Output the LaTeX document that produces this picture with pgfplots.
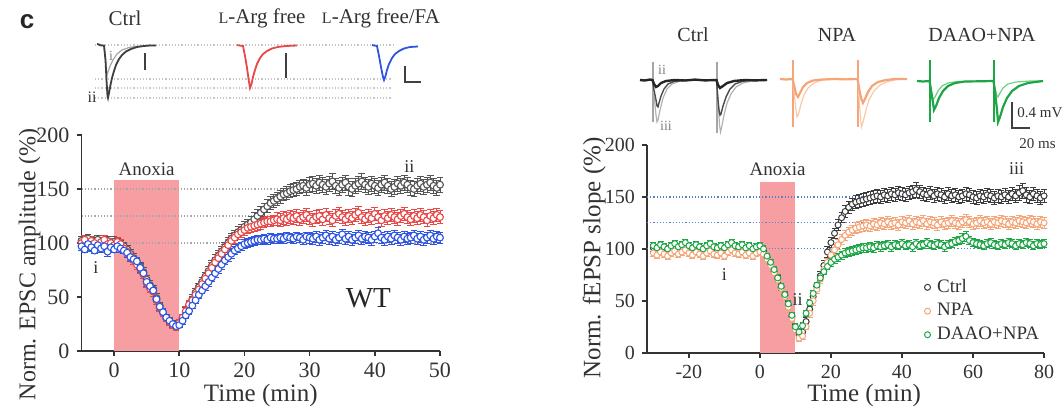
\documentclass[border=0pt]{standalone}
\usepackage{fontspec}
\setmainfont{Liberation Serif}
\newfontfamily\panelfont{Liberation Sans}
\usepackage{pgfplots}
\usepackage{pgfplotstable}
\pgfplotsset{compat=1.18}

\definecolor{cblk}{RGB}{85,85,85}
\definecolor{cred}{RGB}{232,72,72}
\definecolor{cblu}{RGB}{45,85,225}
\definecolor{anox}{RGB}{247,158,162}
\definecolor{rgrid}{RGB}{90,130,200}
\definecolor{rblk}{RGB}{60,60,60}
\definecolor{rorg}{RGB}{245,165,120}
\definecolor{rorgl}{RGB}{250,200,170}
\definecolor{rgrn}{RGB}{30,165,70}
\definecolor{rgrnl}{RGB}{110,210,130}
\definecolor{txt}{RGB}{50,50,50}

% EPSC amplitude, WT (t in min): Ctrl, L-Arg free, L-Arg free/FA
\pgfplotstableread{
t c ce r re b be
-5 102 4 100 4 97 4
-4.5 99 5 103 4 94 3
-4 104 4 98 5 99 4
-3.5 101 4 102 4 96 4
-3 97 5 100 4 93 3
-2.5 103 4 96 5 98 4
-2 100 4 101 4 95 4
-1.5 98 5 103 4 97 3
-1 102 4 99 5 92 4
-0.5 99 4 100 4 96 4
0 101 5 98 4 94 3
0.5 100 4 101 4 97 4
1 98 4 99 4 95 4
1.5 97 4 95 4 93 3
2 94 4 92 4 91 4
2.5 90 4 88 4 87 4
3 86 4 84 4 85 3
3.5 82 4 80 4 83 4
4 78 4 76 4 77 4
4.5 73 4 71 4 72 3
5 66 4 63 4 64 4
5.5 61 4 58 4 60 3
6 57 4 55 4 56 3
6.5 49 4 47 4 48 3
7 42 3 40 3 41 3
7.5 36 3 35 3 36 3
8 31 3 30 3 31 3
8.5 28 3 27 3 28 2
9 25 3 24 3 25 2
9.5 23 3 22 3 23 2
10 25 3 26 3 24 2
10.5 30 3 31 3 28 3
11 36 4 37 4 33 3
11.5 42 4 43 4 37 3
12 48 4 47 4 42 3
12.5 54 4 52 4 47 3
13 59 4 57 4 52 3
13.5 64 4 62 4 56 3
14 69 4 67 4 60 4
14.5 74 4 72 4 64 4
15 79 5 77 5 68 4
15.5 84 5 82 5 72 4
16 88 5 86 5 76 4
16.5 92 5 90 5 80 4
17 96 5 94 5 84 4
17.5 100 5 98 5 87 4
18 104 5 102 5 90 4
18.5 107 5 105 5 93 4
19 110 5 108 5 95 4
19.5 112 5 110 5 97 4
20 115 5 112 5 99 4
20.5 117 5 114 5 100 4
21 119 6 115 5 101 4
21.5 122 6 116 5 102 4
22 125 6 117 5 103 4
22.5 128 6 118 5 103 4
23 131 6 119 5 104 4
23.5 134 6 120 5 103 4
24 137 6 120 5 105 4
24.5 139 6 121 5 104 4
25 141 6 122 6 104 4
25.5 143 6 121 6 105 4
26 145 6 123 6 104 4
26.5 146 6 122 6 106 4
27 148 6 124 6 105 4
27.5 149 6 123 6 104 4
28 150 6 125 6 106 4
28.5 152 6 122 6 105 4
29 153 6 124 6 103 4
29.5 151 7 126 6 106 4
30 154 7 123 6 105 5
30.5 155 7 121 6 104 5
31 153 7 124 6 106 5
31.5 156 7 125 6 103 5
32 154 7 122 6 105 5
32.5 152 7 126 6 107 5
33 155 7 123 6 104 5
33.5 157 7 121 6 106 5
34 153 7 125 6 103 5
34.5 151 7 127 6 105 5
35 154 7 124 6 108 5
35.5 156 7 122 6 104 5
36 152 8 125 6 106 5
36.5 150 7 123 6 103 5
37 153 7 126 6 105 5
37.5 155 7 128 6 107 5
38 157 7 124 6 104 5
38.5 154 7 122 6 106 5
39 152 7 125 6 105 5
39.5 155 7 123 6 103 5
40 153 7 127 6 106 5
40.5 151 7 124 6 109 5
41 154 7 121 6 105 5
41.5 156 7 125 6 103 5
42 153 7 123 6 106 5
42.5 150 7 126 6 104 5
43 152 7 124 6 107 5
43.5 155 7 122 6 105 5
44 153 7 125 6 103 5
44.5 156 7 127 6 106 5
45 154 7 124 6 104 5
45.5 151 7 122 6 105 5
46 150 7 125 6 107 5
46.5 153 7 123 6 104 5
47 155 7 126 6 106 5
47.5 152 7 124 6 103 5
48 154 7 121 6 105 5
48.5 156 7 125 6 107 5
49 153 7 123 6 104 5
49.5 151 7 126 6 106 5
50 154 7 124 6 105 5
}\leftdata

% fEPSP slope (t in min): Ctrl, NPA, DAAO+NPA
\pgfplotstableread{
t c ce n ne d de
-30 101 3 96 3 103 3
-29 99 3 94 3 101 3
-28 102 3 97 3 104 3
-27 100 3 95 3 102 3
-26 98 3 93 3 100 3
-25 101 3 96 3 103 3
-24 103 3 98 3 105 3
-23 100 3 95 3 102 3
-22 102 3 97 3 104 3
-21 104 3 99 3 106 3
-20 101 3 96 3 103 3
-19 99 3 94 3 101 3
-18 102 3 97 3 104 3
-17 100 3 95 3 102 3
-16 98 3 93 3 100 3
-15 101 3 96 3 103 3
-14 103 3 98 3 105 3
-13 100 3 95 3 102 3
-12 98 3 94 3 101 3
-11 101 3 96 3 103 3
-10 99 3 93 3 101 3
-9 102 3 97 3 104 3
-8 104 3 99 3 106 3
-7 101 3 96 3 103 3
-6 100 3 95 3 102 3
-5 102 3 97 3 104 3
-4 99 3 94 3 101 3
-3 101 3 96 3 103 3
-2 98 3 93 3 100 3
-1 100 3 96 3 102 3
0 101 3 97 3 103 3
1 98 3 95 3 100 3
2 92 3 90 3 93 3
3 85 3 84 3 87 3
4 78 3 77 3 80 3
5 71 3 70 3 72 3
6 63 3 62 3 64 3
7 55 3 54 3 56 3
8 46 3 44 3 47 3
9 35 3 33 3 36 3
10 24 3 22 3 25 3
11 17 3 14 3 20 3
12 20 3 16 3 26 3
13 30 4 25 3 38 3
14 42 4 38 4 48 3
15 54 4 50 4 57 3
16 64 4 61 4 65 3
17 74 4 71 4 72 3
18 84 5 80 4 78 3
19 97 5 87 4 83 3
20 106 5 94 5 87 4
21 115 5 99 5 90 4
22 123 5 104 5 92 4
23 130 5 109 5 94 4
24 136 6 113 5 96 4
25 140 6 116 5 97 4
26 143 6 118 5 98 4
27 145 6 120 5 99 4
28 146 6 121 5 100 4
29 147 6 122 5 101 4
30 148 6 123 5 101 4
31 149 6 122 5 102 4
32 150 6 124 5 101 4
33 151 6 123 5 103 4
34 150 6 125 5 102 4
35 152 6 124 5 103 4
36 151 6 126 5 104 4
37 153 6 124 5 102 4
38 152 6 125 5 104 4
39 154 6 123 5 103 4
40 153 6 126 5 105 4
41 152 6 125 5 103 4
42 154 6 127 5 104 4
43 155 6 124 5 102 4
44 157 7 126 5 105 4
45 155 6 125 5 103 4
46 153 6 127 5 104 4
47 152 6 124 5 106 4
48 154 6 126 5 104 4
49 151 6 125 5 103 4
50 153 6 123 5 105 4
51 152 6 126 5 104 4
52 150 6 124 5 102 4
53 153 6 125 5 104 4
54 151 6 127 5 105 4
55 152 6 125 5 107 4
56 150 6 124 5 108 4
57 151 6 126 5 110 5
58 153 6 128 5 112 5
59 152 6 126 5 108 4
60 150 6 124 5 106 4
61 149 6 125 5 105 4
62 151 6 127 5 104 4
63 150 6 125 5 103 4
64 152 6 126 5 105 4
65 151 6 124 5 106 4
66 149 6 126 5 104 4
67 151 6 125 5 103 4
68 150 6 127 5 105 4
69 152 6 126 5 104 4
70 150 6 124 5 106 4
71 153 6 126 5 105 4
72 151 6 125 5 103 4
73 154 7 127 5 105 4
74 156 7 126 5 104 4
75 152 7 125 5 106 4
76 150 6 127 5 105 4
77 153 6 126 5 103 4
78 151 6 124 5 105 4
79 149 6 126 5 104 4
80 151 6 125 5 105 4
}\rightdata

\pgfplotsset{
  mainax/.style={
    anchor=south west, scale only axis, clip=false,
    axis lines*=left,
    axis line style={line width=0.8pt, black!80},
    tick align=outside, major tick length=2.5pt,
    tick style={line width=0.8pt, black!80},
    /pgf/number format/assume math mode=true,
    label style={font=\fontsize{12.5}{14}\selectfont, text=txt},
  },
}

\begin{document}
\begin{tikzpicture}
\useasboundingbox (0,0) rectangle (531.5pt,203.5pt);

% ---- trace insets and top labels, in picture pixels ----
\begin{axis}[at={(0pt,0pt)}, anchor=south west, scale only axis,
  width=531.5pt, height=203.5pt, xmin=0, xmax=1063, ymin=0, ymax=407,
  y dir=reverse, hide axis, clip=false, no markers]
% panel label and condition names
\node[font=\panelfont\bfseries\fontsize{13}{13}\selectfont, text=black!85] at (axis cs:27,22) {c};
\node[font=\fontsize{10.5}{12}\selectfont, text=txt] at (axis cs:125,18) {Ctrl};
\node[font=\fontsize{10.5}{12}\selectfont, text=txt] at (axis cs:262,18) {{\fontsize{8}{8}\selectfont L}-Arg free};
\node[font=\fontsize{10.5}{12}\selectfont, text=txt] at (axis cs:381,18) {{\fontsize{8}{8}\selectfont L}-Arg free/FA};
\node[font=\fontsize{10}{12}\selectfont, text=txt] at (axis cs:693,35) {Ctrl};
\node[font=\fontsize{10}{12}\selectfont, text=txt] at (axis cs:837,35) {NPA};
\node[font=\fontsize{10}{12}\selectfont, text=txt] at (axis cs:982,35) {DAAO+NPA};
% left reference lines
\addplot[gray!45, line width=0.6pt, densely dotted] coordinates {(95,45) (395,45)};
\addplot[gray!45, line width=0.6pt, densely dotted] coordinates {(95,79) (392,79)};
\addplot[gray!45, line width=0.6pt, densely dotted] coordinates {(95,88) (392,88)};
\addplot[gray!45, line width=0.6pt, densely dotted] coordinates {(95,98) (392,98)};
% left Ctrl EPSCs
\addplot[gray!70, line width=0.6pt] coordinates {(104,45.5) (105.5,60) (106.5,72) (107,75) (108,72) (110,66) (113,60) (117,54) (122,50) (129,47.5) (137,46.3) (146,45.6) (156,45.5)};
\addplot[black!75, line width=0.9pt] coordinates {(97,44) (99,44.5) (101,45.5) (104,45.5) (105.5,60) (106.5,80) (107.5,96) (108,98) (109,93) (110.5,85) (112,78) (114,71) (116,65) (119,59) (122,55) (126,51.5) (131,49) (137,47) (144,46) (150,45.5) (156,45.5)};
\addplot[black!75, line width=1.4pt] coordinates {(145,53) (145,70)};
\node[font=\fontsize{7}{8}\selectfont, text=gray] at (axis cs:111,56) {i};
\node[font=\fontsize{8}{9}\selectfont, text=txt] at (axis cs:92,97) {ii};
% left L-Arg free
\addplot[cred, line width=0.9pt] coordinates {(237,45) (239,45.5) (243,46) (245,56) (247,68) (249,82) (250,88) (251.5,84) (253,77) (255,70) (257,64) (260,58) (263,54) (267,51) (272,48.5) (278,47) (286,46) (297,45.5)};
\addplot[black!75, line width=1.4pt] coordinates {(286,53) (286,78)};
% left L-Arg free/FA
\addplot[cblu, line width=0.9pt] coordinates {(372,45) (374,45.5) (377,46) (379,56) (381,67) (383,77) (384,80) (385.5,76) (387,70) (389,64) (392,58) (395,54) (399,51) (404,48.5) (410,47) (418,46.5)};
\addplot[black!75, line width=1.2pt] coordinates {(405,66) (405,82) (421,82)};
% right Ctrl fEPSPs
\addplot[gray!70, line width=0.6pt] coordinates {(653,62) (653,122)};
\addplot[gray!70, line width=0.6pt] coordinates {(717,62) (717,133)};
\addplot[gray!60, line width=0.6pt] coordinates {(652.5,80) (654,95) (656,115) (657,122) (658,120) (660,110) (663,98) (667,89) (672,84) (680,81) (690,80) (716.5,80) (718,100) (719.5,125) (720.5,132) (721.5,128) (724,115) (727,103) (731,94) (736,87) (743,83) (752,81) (767,80)};
\addplot[black!70, line width=0.7pt] coordinates {(652.5,80) (654,90) (656,100) (657,106) (658,107) (659,103) (661,96) (664,89) (668,84) (674,81.5) (682,80.5) (690,80) (716.5,80) (718,100) (719,110) (720,115) (721,114) (723,106) (726,97) (730,89) (735,84) (742,81.5) (750,80.3) (767,80)};
\addplot[black!85, line width=1.2pt] coordinates {(640,80) (645,80.5) (650,79.5) (652.5,80) (654,84) (656,87) (658,86) (661,83) (666,81) (675,80) (685,80.5) (695,79.6) (705,80.4) (716.5,80) (718,85) (720,88) (723,86) (727,83) (734,81) (745,80) (755,80.4) (767,80)};
\node[font=\fontsize{7}{8}\selectfont, text=gray] at (axis cs:662,70) {ii};
\node[font=\fontsize{7}{8}\selectfont, text=gray] at (axis cs:666,126) {iii};
% right NPA
\addplot[rorg, line width=0.6pt] coordinates {(793,60) (793,127)};
\addplot[rorg, line width=0.6pt] coordinates {(858,60) (858,127)};
\addplot[rorgl, line width=0.6pt] coordinates {(792.5,79) (794,92) (796,110) (797,117) (798.5,114) (801,104) (804,95) (808,88) (814,83) (822,80) (835,79) (857.5,79) (859,98) (860.5,118) (861.5,127) (863,122) (866,110) (869,100) (874,91) (880,85) (888,81.5) (897,79.5) (907,79)};
\addplot[rorg, line width=1.1pt] coordinates {(780,79) (786,79.5) (792.5,79) (794,85) (796,94) (798,97) (800,93) (803,87) (807,83) (813,80.5) (822,79.5) (835,79) (846,79.4) (857.5,79) (859,88) (861,98) (863,103) (865,99) (868,92) (872,86) (878,82) (886,80) (895,79) (907,79)};
% right DAAO+NPA
\addplot[rgrn, line width=0.6pt] coordinates {(930,60) (930,122)};
\addplot[rgrn, line width=0.6pt] coordinates {(994,60) (994,122)};
\addplot[rgrnl, line width=0.6pt] coordinates {(929.5,81) (931,90) (933,100) (935,97) (938,91) (942,86) (948,83) (958,81.5) (993.5,81) (995,88) (997,96) (998,97) (1000,93) (1003,88) (1008,84) (1016,82) (1030,81) (1043,81)};
\addplot[rgrn, line width=1.1pt] coordinates {(917,81) (923,81.5) (929.5,81) (931,90) (933,103) (934,110) (936,106) (939,98) (943,91) (948,86) (955,83) (965,81.5) (980,81.3) (993.5,81) (995,92) (997,110) (998,122) (1000,117) (1003,107) (1007,98) (1012,91) (1019,86) (1028,83) (1043,81)};
% right scale bar
\addplot[black!75, line width=1.2pt] coordinates {(1012,102) (1012,128) (1030,128)};
\node[font=\fontsize{7.5}{9}\selectfont, text=txt, anchor=west, inner sep=1pt] at (axis cs:1015,113) {0.4 mV};
\node[font=\fontsize{7.5}{9}\selectfont, text=txt, anchor=west, inner sep=1pt] at (axis cs:1017,144) {20 ms};
\end{axis}

% ---- EPSC amplitude ----
\begin{axis}[mainax, at={(40.75pt,28pt)}, width=179.25pt, height=108pt,
  xmin=-5, xmax=50, ymin=0, ymax=200,
  xtick={0,10,...,50}, ytick={0,50,...,200},
  ticklabel style={font=\fontsize{11}{12}\selectfont, text=txt},
  xlabel={Time (min)}, ylabel={Norm. EPSC amplitude (\%)},
  x label style={at={(axis description cs:0.5,-0.205)}, anchor=center},
  y label style={at={(axis description cs:-0.145,0.4)}, anchor=center, font=\fontsize{12}{14}\selectfont}]
\addplot[fill=anox, draw=none, forget plot] coordinates {(0,158) (10,158)} \closedcycle;
\addplot[gray!70, densely dotted, line width=0.6pt, forget plot] coordinates {(-5,150) (50,150)};
\addplot[gray!70, densely dotted, line width=0.6pt, forget plot] coordinates {(-5,125) (50,125)};
\addplot[gray!70, densely dotted, line width=0.6pt, forget plot] coordinates {(-5,100) (50,100)};
\addplot[only marks, mark=*, mark size=1.7pt, mark options={fill=white, draw=cblk, line width=0.55pt},
  error bars/.cd, y dir=both, y explicit, error bar style={cblk, line width=0.4pt}]
  table[x=t, y=c, y error=ce] {\leftdata};
\addplot[only marks, mark=*, mark size=1.7pt, mark options={fill=white, draw=cred, line width=0.55pt},
  error bars/.cd, y dir=both, y explicit, error bar style={cred, line width=0.4pt}]
  table[x=t, y=r, y error=re] {\leftdata};
\addplot[only marks, mark=*, mark size=1.7pt, mark options={fill=white, draw=cblu, line width=0.55pt},
  error bars/.cd, y dir=both, y explicit, error bar style={cblu, line width=0.4pt}]
  table[x=t, y=b, y error=be] {\leftdata};
\node[font=\fontsize{9.5}{10}\selectfont, text=txt] at (axis cs:5,168) {Anoxia};
\node[font=\fontsize{9}{10}\selectfont, text=txt] at (axis cs:-2.8,77) {i};
\node[font=\fontsize{9}{10}\selectfont, text=txt] at (axis cs:45.3,171) {ii};
\node[font=\fontsize{14.5}{16}\selectfont, text=black!85] at (axis cs:39,49) {WT};
\end{axis}

% ---- fEPSP slope ----
\begin{axis}[mainax, at={(323.5pt,27.15pt)}, width=198.5pt, height=103.85pt,
  xmin=-31.8, xmax=80, ymin=0, ymax=200,
  xtick={-20,0,...,80}, ytick={0,50,...,200},
  ticklabel style={font=\fontsize{10}{11}\selectfont, text=txt},
  xlabel={Time (min)}, ylabel={Norm. fEPSP slope (\%)},
  x label style={at={(axis description cs:0.547,-0.207)}, anchor=center},
  y label style={at={(axis description cs:-0.133,0.456)}, anchor=center},
  legend style={at={(0.698,0.375)}, anchor=north west, draw=none, fill=none,
    font=\fontsize{9.5}{10}\selectfont, text=txt, row sep=0pt, inner sep=0pt},
  legend cell align=left,
  legend image code/.code={\draw[#1] plot coordinates {(0cm,0cm)}; \path[draw=none, fill=none] (0cm,-0.05cm) rectangle (0.1cm,0.05cm);}]
\addplot[fill=anox, draw=none, forget plot] coordinates {(0,164) (10,164)} \closedcycle;
\addplot[rgrid, densely dotted, line width=0.6pt, forget plot] coordinates {(-31.8,150) (80,150)};
\addplot[rgrid, densely dotted, line width=0.6pt, forget plot] coordinates {(-31.8,125) (80,125)};
\addplot[rgrid, densely dotted, line width=0.6pt, forget plot] coordinates {(-31.8,100) (80,100)};
\addplot[only marks, mark=*, mark size=1.5pt, mark options={fill=white, draw=rblk, line width=0.5pt},
  error bars/.cd, y dir=both, y explicit, error bar style={rblk, line width=0.35pt}]
  table[x=t, y=c, y error=ce] {\rightdata};
\addlegendentry{Ctrl}
\addplot[only marks, mark=*, mark size=1.5pt, mark options={fill=white, draw=rorg, line width=0.5pt},
  error bars/.cd, y dir=both, y explicit, error bar style={rorg, line width=0.35pt}]
  table[x=t, y=n, y error=ne] {\rightdata};
\addlegendentry{NPA}
\addplot[only marks, mark=*, mark size=1.5pt, mark options={fill=white, draw=rgrn, line width=0.5pt},
  error bars/.cd, y dir=both, y explicit, error bar style={rgrn, line width=0.35pt}]
  table[x=t, y=d, y error=de] {\rightdata};
\addlegendentry{DAAO+NPA}
\node[font=\fontsize{9.5}{10}\selectfont, text=txt] at (axis cs:5,176.6) {Anoxia};
\node[font=\fontsize{9}{10}\selectfont, text=txt] at (axis cs:-10,75) {i};
\node[font=\fontsize{9}{10}\selectfont, text=txt] at (axis cs:10.6,51) {ii};
\node[font=\fontsize{9}{10}\selectfont, text=txt] at (axis cs:72.3,177) {iii};
\end{axis}
\end{tikzpicture}
\end{document}
